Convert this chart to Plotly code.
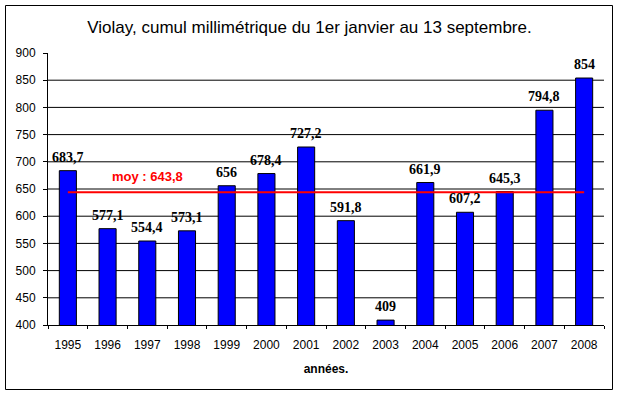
import plotly.graph_objects as go

years = ["1995", "1996", "1997", "1998", "1999", "2000", "2001",
         "2002", "2003", "2004", "2005", "2006", "2007", "2008"]
cumul = [683.7, 577.1, 554.4, 573.1, 656, 678.4, 727.2,
         591.8, 409, 661.9, 607.2, 645.3, 794.8, 854]
moyenne = 643.8
y_ticks = [400, 450, 500, 550, 600, 650, 700, 750, 800, 850, 900]

def fmt(v):
    s = ("%g" % v)
    return s.replace(".", ",")

W, H = 619, 395
ML, MR, MT, MB = 48, 15, 53, 70
pw, ph = W - ML - MR, H - MT - MB

fig = go.Figure()
fig.add_trace(go.Bar(
    x=years, y=cumul,
    marker=dict(color="#0000FF", line=dict(color="black", width=1)),
    hoverinfo="x+y",
))
fig.add_trace(go.Scatter(
    x=years, y=[moyenne] * len(years), mode="lines",
    line=dict(color="#FF0000", width=2), hoverinfo="skip",
))

shapes = []
for t in y_ticks[1:-1]:
    shapes.append(dict(type="line", xref="paper", yref="y", x0=0, x1=1, y0=t, y1=t,
                       line=dict(color="black", width=1), layer="below"))
# outer chart border
shapes.append(dict(type="rect", xref="paper", yref="paper",
                   x0=(5.5 - ML) / pw, x1=(612.5 - ML) / pw,
                   y0=-(389.5 - (H - MB)) / ph, y1=1 + (MT - 5.5) / ph,
                   line=dict(color="black", width=1)))

annotations = []
for i, v in enumerate(cumul):
    annotations.append(dict(x=i, y=v, xref="x", yref="y", text=fmt(v),
                            showarrow=False, yanchor="bottom", yshift=4,
                            font=dict(family="Liberation Serif", size=14,
                                      color="black", weight="bold")))
annotations.append(dict(x=years.index("1997"), y=moyenne, xref="x", yref="y",
                        text="moy : " + fmt(moyenne), showarrow=False,
                        yanchor="bottom", yshift=6,
                        font=dict(family="Liberation Sans", size=13,
                                  color="#FF0000", weight="bold")))

fig.update_layout(
    width=W, height=H,
    margin=dict(l=ML, r=MR, t=MT, b=MB, autoexpand=False),
    paper_bgcolor="white", plot_bgcolor="white",
    showlegend=False,
    bargap=0.57,
    font=dict(family="Liberation Sans", size=12, color="black"),
    title=dict(text="Violay, cumul millimétrique du 1er janvier au 13 septembre.",
               x=0.5, xanchor="center", y=1 - 27 / H, yanchor="middle",
               font=dict(family="Liberation Sans", size=17, color="black")),
    xaxis=dict(type="category", categoryorder="array", categoryarray=years,
               range=[-0.5, len(years) - 0.5], automargin=False,
               showline=True, linecolor="black", linewidth=1,
               ticks="outside", ticklen=3, tickcolor="black", tickson="boundaries",
               ticklabelstandoff=9,
               showgrid=False, tickfont=dict(size=12), tickangle=0,
               title=dict(text="années.", standoff=13,
                          font=dict(family="Liberation Sans", size=12, weight="bold"))),
    yaxis=dict(range=[400, 900], tickvals=y_ticks, showline=True, linecolor="black",
               linewidth=1, ticks="outside", ticklen=4, tickcolor="black", automargin=False,
               ticklabelstandoff=5,
               showgrid=False, zeroline=False, tickfont=dict(size=12)),
    shapes=shapes,
    annotations=annotations,
)

fig.write_html("out.html", config={"displayModeBar": False},
               post_script="document.body.style.margin='0px';")
